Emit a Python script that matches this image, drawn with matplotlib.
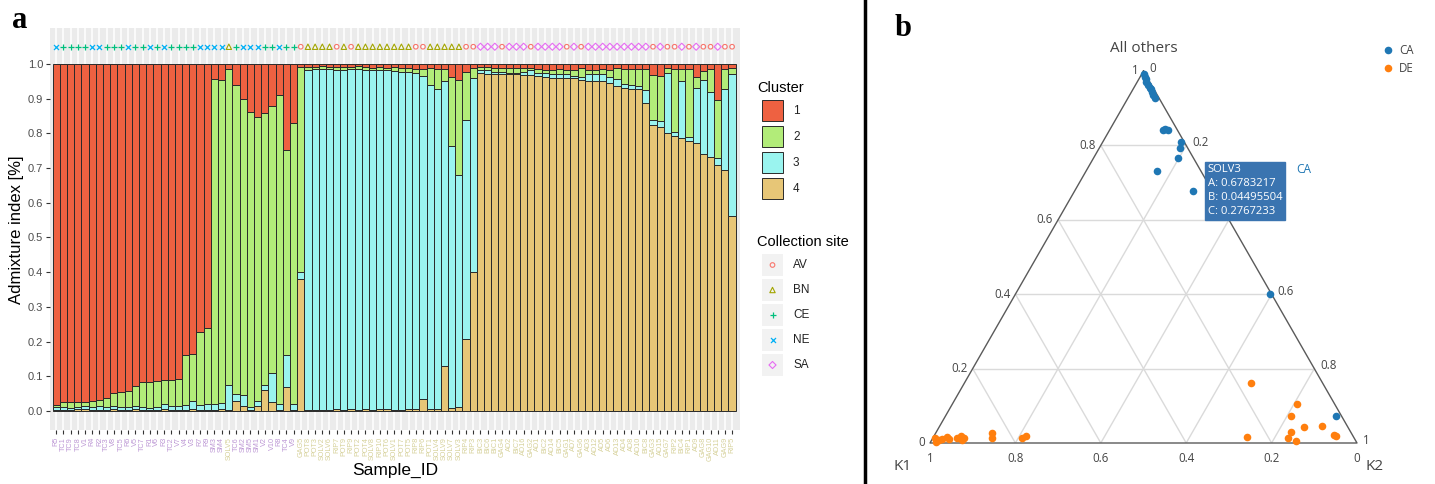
import numpy as np
import matplotlib.pyplot as plt
from matplotlib.patches import Rectangle

W, H = 1435, 484

# ---------------- panel a data ----------------
sample_ids = ["R5", "TC1", "TC9", "TC8", "V1", "R4", "R2", "TC3", "V8", "TC5", "R6", "V5", "TC7", "R1",
              "V6", "R3", "TC2", "V7", "V4", "V3", "R7", "R9", "SM3", "SM4", "SOLV5", "TC6", "SM2", "SM5",
              "SM1", "V2", "V10", "R8", "TC4", "V9",
              "GAG5", "POT8", "POT3", "SOLV2", "SOLV6", "RIP7", "POT9", "RIP9", "POT2", "POT4", "SOLV8",
              "RIP10", "POT6", "SOLV1", "POT7", "POT5", "RIP8", "RIP6", "POT1", "SOLV4", "SOLV9", "SOLV7",
              "SOLV3", "RIP4", "RIP3", "BIC3", "BIC6", "BIC1", "GAG4", "AD2", "BIC7", "AD16", "GAG2", "AD1",
              "BIC2", "AD14", "BIC5", "GAG1", "AD7", "GAG6", "AD3", "AD12", "AD5", "AD6", "AD13", "AD4", "AD8",
              "AD10", "BIC8", "GAG3", "AD15", "GAG7", "RIP2", "BIC4", "RIP1", "AD9", "GAG8", "GAG10", "AD11",
              "GAG9", "RIP5"]

# collection site per sample (A=AV, B=BN, C=CE, N=NE, S=SA)
site_codes = ("NCCCCNNCCCNCCNCNCCCCNNNNBCNNNCCNCC"
              "ABBBBABABBBBBBBBAABBBBBAASSSASSSASSSSASASSSSSSSSSASAASASAASAA")
site_names = {"A": "AV", "B": "BN", "C": "CE", "N": "NE", "S": "SA"}
ca_prefixes = ("R", "TC", "V", "SM")

# cumulative admixture (top of cluster 4, of 4+3, of 4+3+2)
top4 = [0.003, 0.003, 0.002, 0.005, 0.006, 0.003, 0.003, 0.004, 0.005, 0.004, 0.004, 0.005, 0.003, 0.003,
        0.004, 0.005, 0.004, 0.004, 0.004, 0.006, 0.004, 0.004, 0.004, 0.005, 0.002, 0.030, 0.014, 0.004,
        0.015, 0.060, 0.025, 0.004, 0.070, 0.004,
        0.380, 0.004, 0.004, 0.003, 0.004, 0.006, 0.004, 0.005, 0.004, 0.006, 0.004, 0.005, 0.005, 0.004,
        0.004, 0.006, 0.005, 0.035, 0.006, 0.006, 0.130, 0.008, 0.011, 0.207, 0.400,
        0.973, 0.971, 0.971, 0.971, 0.971, 0.971, 0.969, 0.968, 0.965, 0.962, 0.959, 0.959, 0.959, 0.959,
        0.954, 0.952, 0.952, 0.952, 0.946, 0.937, 0.930, 0.927, 0.927, 0.887, 0.824, 0.820, 0.802, 0.792,
        0.786, 0.778, 0.773, 0.740, 0.733, 0.709, 0.696, 0.562]
top3 = [0.010, 0.012, 0.008, 0.012, 0.014, 0.010, 0.014, 0.010, 0.014, 0.012, 0.011, 0.013, 0.010, 0.009,
        0.012, 0.020, 0.013, 0.013, 0.016, 0.030, 0.016, 0.020, 0.021, 0.022, 0.076, 0.048, 0.046, 0.010,
        0.030, 0.075, 0.108, 0.020, 0.162, 0.020,
        0.400, 0.983, 0.985, 0.985, 0.985, 0.983, 0.984, 0.986, 0.985, 0.984, 0.983, 0.982, 0.982, 0.980,
        0.978, 0.976, 0.975, 0.965, 0.940, 0.928, 0.950, 0.765, 0.680, 0.838, 0.960,
        0.982, 0.982, 0.978, 0.978, 0.975, 0.975, 0.978, 0.982, 0.975, 0.973, 0.971, 0.971, 0.971, 0.965,
        0.963, 0.971, 0.971, 0.971, 0.962, 0.956, 0.942, 0.940, 0.937, 0.925, 0.838, 0.835, 0.975, 0.805,
        0.950, 0.790, 0.930, 0.955, 0.920, 0.730, 0.927, 0.971]
top2 = [0.018, 0.025, 0.025, 0.027, 0.027, 0.029, 0.032, 0.038, 0.052, 0.055, 0.056, 0.072, 0.083, 0.083,
        0.086, 0.088, 0.090, 0.091, 0.160, 0.165, 0.228, 0.238, 0.958, 0.953, 0.985, 0.940, 0.898, 0.862,
        0.846, 0.858, 0.880, 0.910, 0.752, 0.830,
        0.993, 0.992, 0.993, 0.994, 0.992, 0.993, 0.992, 0.993, 0.994, 0.993, 0.990, 0.992, 0.990, 0.992,
        0.990, 0.988, 0.985, 0.985, 0.988, 0.985, 0.985, 0.963, 0.954, 0.978, 0.988,
        0.992, 0.992, 0.990, 0.990, 0.988, 0.990, 0.990, 0.990, 0.985, 0.982, 0.982, 0.985, 0.982, 0.983,
        0.990, 0.982, 0.982, 0.985, 0.982, 0.990, 0.987, 0.987, 0.987, 0.987, 0.968, 0.965, 0.990, 0.985,
        0.985, 0.985, 0.962, 0.980, 0.985, 0.896, 0.985, 0.990]

cluster_cols = {"1": "#EE6141", "2": "#B2EC79", "3": "#9AF4EF", "4": "#E7C677"}
site_cols = {"AV": "#F8766D", "BN": "#A3A500", "CE": "#00BF7D", "NE": "#00B0F6", "SA": "#E76BF3"}
site_marks = {"AV": "o", "BN": "^", "CE": "+", "NE": "x", "SA": "D"}
site_sizes = {"AV": 11, "BN": 15, "CE": 22, "NE": 13, "SA": 13}
label_cols = {"CA": "#BD98D5", "DE": "#D6D19A"}

# ---------------- panel b data ----------------
ca_a = [0.992, 0.985, 0.978, 0.971, 0.962, 0.955, 0.951, 0.944, 0.936, 0.928, 0.841, 0.843, 0.841,
        0.808, 0.794, 0.765, 0.731, 0.6783217, 0.401, 0.073]
ca_b = [0.003, 0.004, 0.006, 0.008, 0.008, 0.007, 0.008, 0.008, 0.010, 0.009, 0.035, 0.027, 0.022,
        0.008, 0.018, 0.036, 0.103, 0.04495504, 0.004, 0.013]
ca_c = [0.005, 0.011, 0.016, 0.021, 0.030, 0.038, 0.041, 0.048, 0.054, 0.063, 0.124, 0.130, 0.137,
        0.184, 0.188, 0.199, 0.166, 0.2767233, 0.595, 0.914]
de_a = [0.014, 0.008, 0.010, 0.015, 0.011, 0.013, 0.019, 0.014, 0.008, 0.003, 0.028, 0.014, 0.014,
        0.019, 0.160, 0.017, 0.105, 0.073, 0.044, 0.030, 0.014, 0.006, 0.047, 0.021, 0.019]
de_b = [0.982, 0.976, 0.967, 0.952, 0.949, 0.930, 0.919, 0.913, 0.921, 0.984, 0.841, 0.848, 0.778,
        0.765, 0.169, 0.249, 0.087, 0.117, 0.101, 0.140, 0.154, 0.140, 0.059, 0.044, 0.040]
de_c = [0.004, 0.016, 0.023, 0.033, 0.040, 0.057, 0.062, 0.073, 0.071, 0.013, 0.131, 0.138, 0.208,
        0.216, 0.671, 0.734, 0.808, 0.810, 0.855, 0.830, 0.832, 0.854, 0.894, 0.935, 0.941]
tern_ticks = [0, 0.2, 0.4, 0.6, 0.8, 1]
right_ticks = [0, 0.2, 0.6, 0.8, 1]   # 0.4 sits under the hover box
hover_sample = "SOLV3"

plt.rcParams['font.family'] = ['Liberation Sans', 'DejaVu Sans']
fig = plt.figure(figsize=(W / 100, H / 100), dpi=100)

# ================= panel a =================
ax = fig.add_axes([50 / W, 1 - 430 / H, 690 / W, 402 / H])
x = np.arange(len(sample_ids))
t4, t3, t2 = np.array(top4), np.array(top3), np.array(top2)
ax.set_facecolor('#EBEBEB')
ax.set_axisbelow(True)
ax.grid(axis='x', color='white', lw=1.1)
ax.grid(axis='y', visible=False)
bk = dict(width=1.0, edgecolor='#2a2a2a', linewidth=0.7)
ax.bar(x, t4, color=cluster_cols["4"], **bk)
ax.bar(x, t3 - t4, bottom=t4, color=cluster_cols["3"], **bk)
ax.bar(x, t2 - t3, bottom=t3, color=cluster_cols["2"], **bk)
ax.bar(x, 1 - t2, bottom=t2, color=cluster_cols["1"], **bk)


def site_marker(axis, xs, ys, name):
    m = site_marks[name]
    if m in ("+", "x"):
        axis.scatter(xs, ys, marker=m, s=site_sizes[name], color=site_cols[name], lw=0.9)
    else:
        axis.scatter(xs, ys, marker=m, s=site_sizes[name], facecolors='none',
                     edgecolors=site_cols[name], lw=0.8)


sites = [site_names[s] for s in site_codes]
for name in site_cols:
    idx = [i for i, s in enumerate(sites) if s == name]
    site_marker(ax, idx, [1.05] * len(idx), name)

ax.set_xlim(-0.876, 95.1)
ax.set_ylim(-0.055, 1.104)
ax.set_yticks(np.arange(0, 1.01, 0.1))
ax.set_yticklabels([f"{v:.1f}" for v in np.arange(0, 1.01, 0.1)])
ax.set_xticks(x)
ax.set_xticklabels(sample_ids, rotation=90, fontsize=5.2)
for lab, sid in zip(ax.get_xticklabels(), sample_ids):
    pref = sid.rstrip("0123456789")
    lab.set_color(label_cols["CA" if pref in ca_prefixes else "DE"])
ax.tick_params(axis='y', length=3, color='#333333', labelsize=8, labelcolor='#4D4D4D', pad=2)
ax.tick_params(axis='x', length=3, color='#333333', pad=2)
for sp in ax.spines.values():
    sp.set_visible(False)

fig.text(395 / W, 1 - 470 / H, "Sample_ID", fontsize=12.5, ha='center', va='center')
fig.text(17 / W, 1 - 230 / H, "Admixture index [%]", fontsize=12, rotation=90, ha='center', va='center')

# ================= panel b (ternary) =================
h = np.sqrt(3) / 2


def tern(a, b, c):
    a, b, c = np.asarray(a, float), np.asarray(b, float), np.asarray(c, float)
    s = a + b + c
    return (c + a / 2) / s, a * h / s


tax = fig.add_axes([930 / W, 1 - 443 / H, 427 / W, 372 / H])
tax.set_xlim(0, 1)
tax.set_ylim(0, h)
tax.axis('off')
tfont = ['Open Sans', 'DejaVu Sans']
for v in tern_ticks[1:-1]:
    for p, q in [((v, 1 - v, 0), (v, 0, 1 - v)), ((0, v, 1 - v), (1 - v, v, 0)), ((0, 1 - v, v), (1 - v, 0, v))]:
        xs, ys = tern([p[0], q[0]], [p[1], q[1]], [p[2], q[2]])
        tax.plot(xs, ys, color='#dadada', lw=1, zorder=1)
ex, ey = tern([1, 0, 0, 1], [0, 1, 0, 0], [0, 0, 1, 0])
tax.plot(ex, ey, color='#5a5a5a', lw=1, zorder=2, clip_on=False)

for v in tern_ticks:
    lbl = f"{v:g}"
    px, py = tern(v, 1 - v, 0)
    tax.annotate(lbl, (px, py), xytext=(-5, 0), textcoords='offset pixels', ha='right', va='center',
                 fontsize=8.3, color='#444444', family=tfont)
    px, py = tern(0, v, 1 - v)
    tax.annotate(lbl, (px, py), xytext=(0, -9), textcoords='offset pixels', ha='center', va='top',
                 fontsize=8.3, color='#444444', family=tfont)
for v in right_ticks:
    px, py = tern(1 - v, 0, v)
    tax.annotate(f"{v:g}", (px, py), xytext=(6, 3), textcoords='offset pixels', ha='left', va='center',
                 fontsize=8.3, color='#444444', family=tfont)

px, py = tern(1, 0, 0)
tax.annotate("All others", (px, py), xytext=(0, 15), textcoords='offset pixels', ha='center',
             va='bottom', fontsize=11, color='#444444', family=tfont)
px, py = tern(0, 1, 0)
tax.annotate("K1", (px, py), xytext=(-27, -24), textcoords='offset pixels', ha='center', va='center',
             fontsize=11, color='#444444', family=tfont)
px, py = tern(0, 0, 1)
tax.annotate("K2", (px, py), xytext=(18, -24), textcoords='offset pixels', ha='center', va='center',
             fontsize=11, color='#444444', family=tfont)

cx, cy = tern(ca_a, ca_b, ca_c)
dx, dy = tern(de_a, de_b, de_c)
tax.scatter(cx, cy, s=30, color='#1F77B4', zorder=5, clip_on=False, lw=0)
tax.scatter(dx, dy, s=30, color='#FF7F0E', zorder=5, clip_on=False, lw=0)

# hover box on SOLV3
k = 17
hx, hy = tern(ca_a[k], ca_b[k], ca_c[k])
tax.annotate(f"{hover_sample}\nA: {ca_a[k]:.7g}\nB: {ca_b[k]:.7g}\nC: {ca_c[k]:.7g}", (hx, hy),
             xytext=(15, 0), textcoords='offset pixels', ha='left', va='center', fontsize=8.1,
             color='white', family=tfont, linespacing=1.35, zorder=8,
             bbox=dict(boxstyle='square,pad=0.25', fc='#3A74B0', ec='#3A74B0'))
tax.annotate("CA", (hx, hy), xytext=(103, 21), textcoords='offset pixels', ha='left', va='center',
             fontsize=8.6, color='#1F77B4', family=tfont, zorder=8)

# ================= overlay: legends, labels, separator =================
ov = fig.add_axes([0, 0, 1, 1], zorder=10)
ov.set_xlim(0, W)
ov.set_ylim(H, 0)
ov.axis('off')

ov.text(12, 21, "a", fontsize=22, fontweight='bold', family='Liberation Serif', va='center')
ov.text(895, 29, "b", fontsize=22, fontweight='bold', family='Liberation Serif', va='center')
ov.plot([865, 865], [0, H], color='black', lw=2.5)

ov.text(757, 88, "Cluster", fontsize=10.5, va='center')
for i, key in enumerate(cluster_cols):
    y0 = 100 + 26 * i
    ov.add_patch(Rectangle((762, y0), 21, 21, fc=cluster_cols[key], ec='#2a2a2a', lw=0.7))
    ov.text(793, y0 + 10.5, key, fontsize=8.5, va='center', color='#222222')

ov.text(757, 242, "Collection site", fontsize=10.5, va='center')
for i, name in enumerate(site_cols):
    yc = 265 + 25 * i
    ov.add_patch(Rectangle((762, yc - 11), 21, 22, fc='#F2F2F2', ec='none'))
    site_marker(ov, [772.5], [yc], name)
    ov.text(793, yc, name, fontsize=8.5, va='center', color='#222222')

ov.scatter([1388], [50], s=30, color='#1F77B4', lw=0)
ov.scatter([1388], [68], s=30, color='#FF7F0E', lw=0)
ov.text(1399, 50, "CA", fontsize=8.3, va='center', color='#444444', family=tfont)
ov.text(1399, 68, "DE", fontsize=8.3, va='center', color='#444444', family=tfont)

fig.savefig("out.png", dpi=100)
